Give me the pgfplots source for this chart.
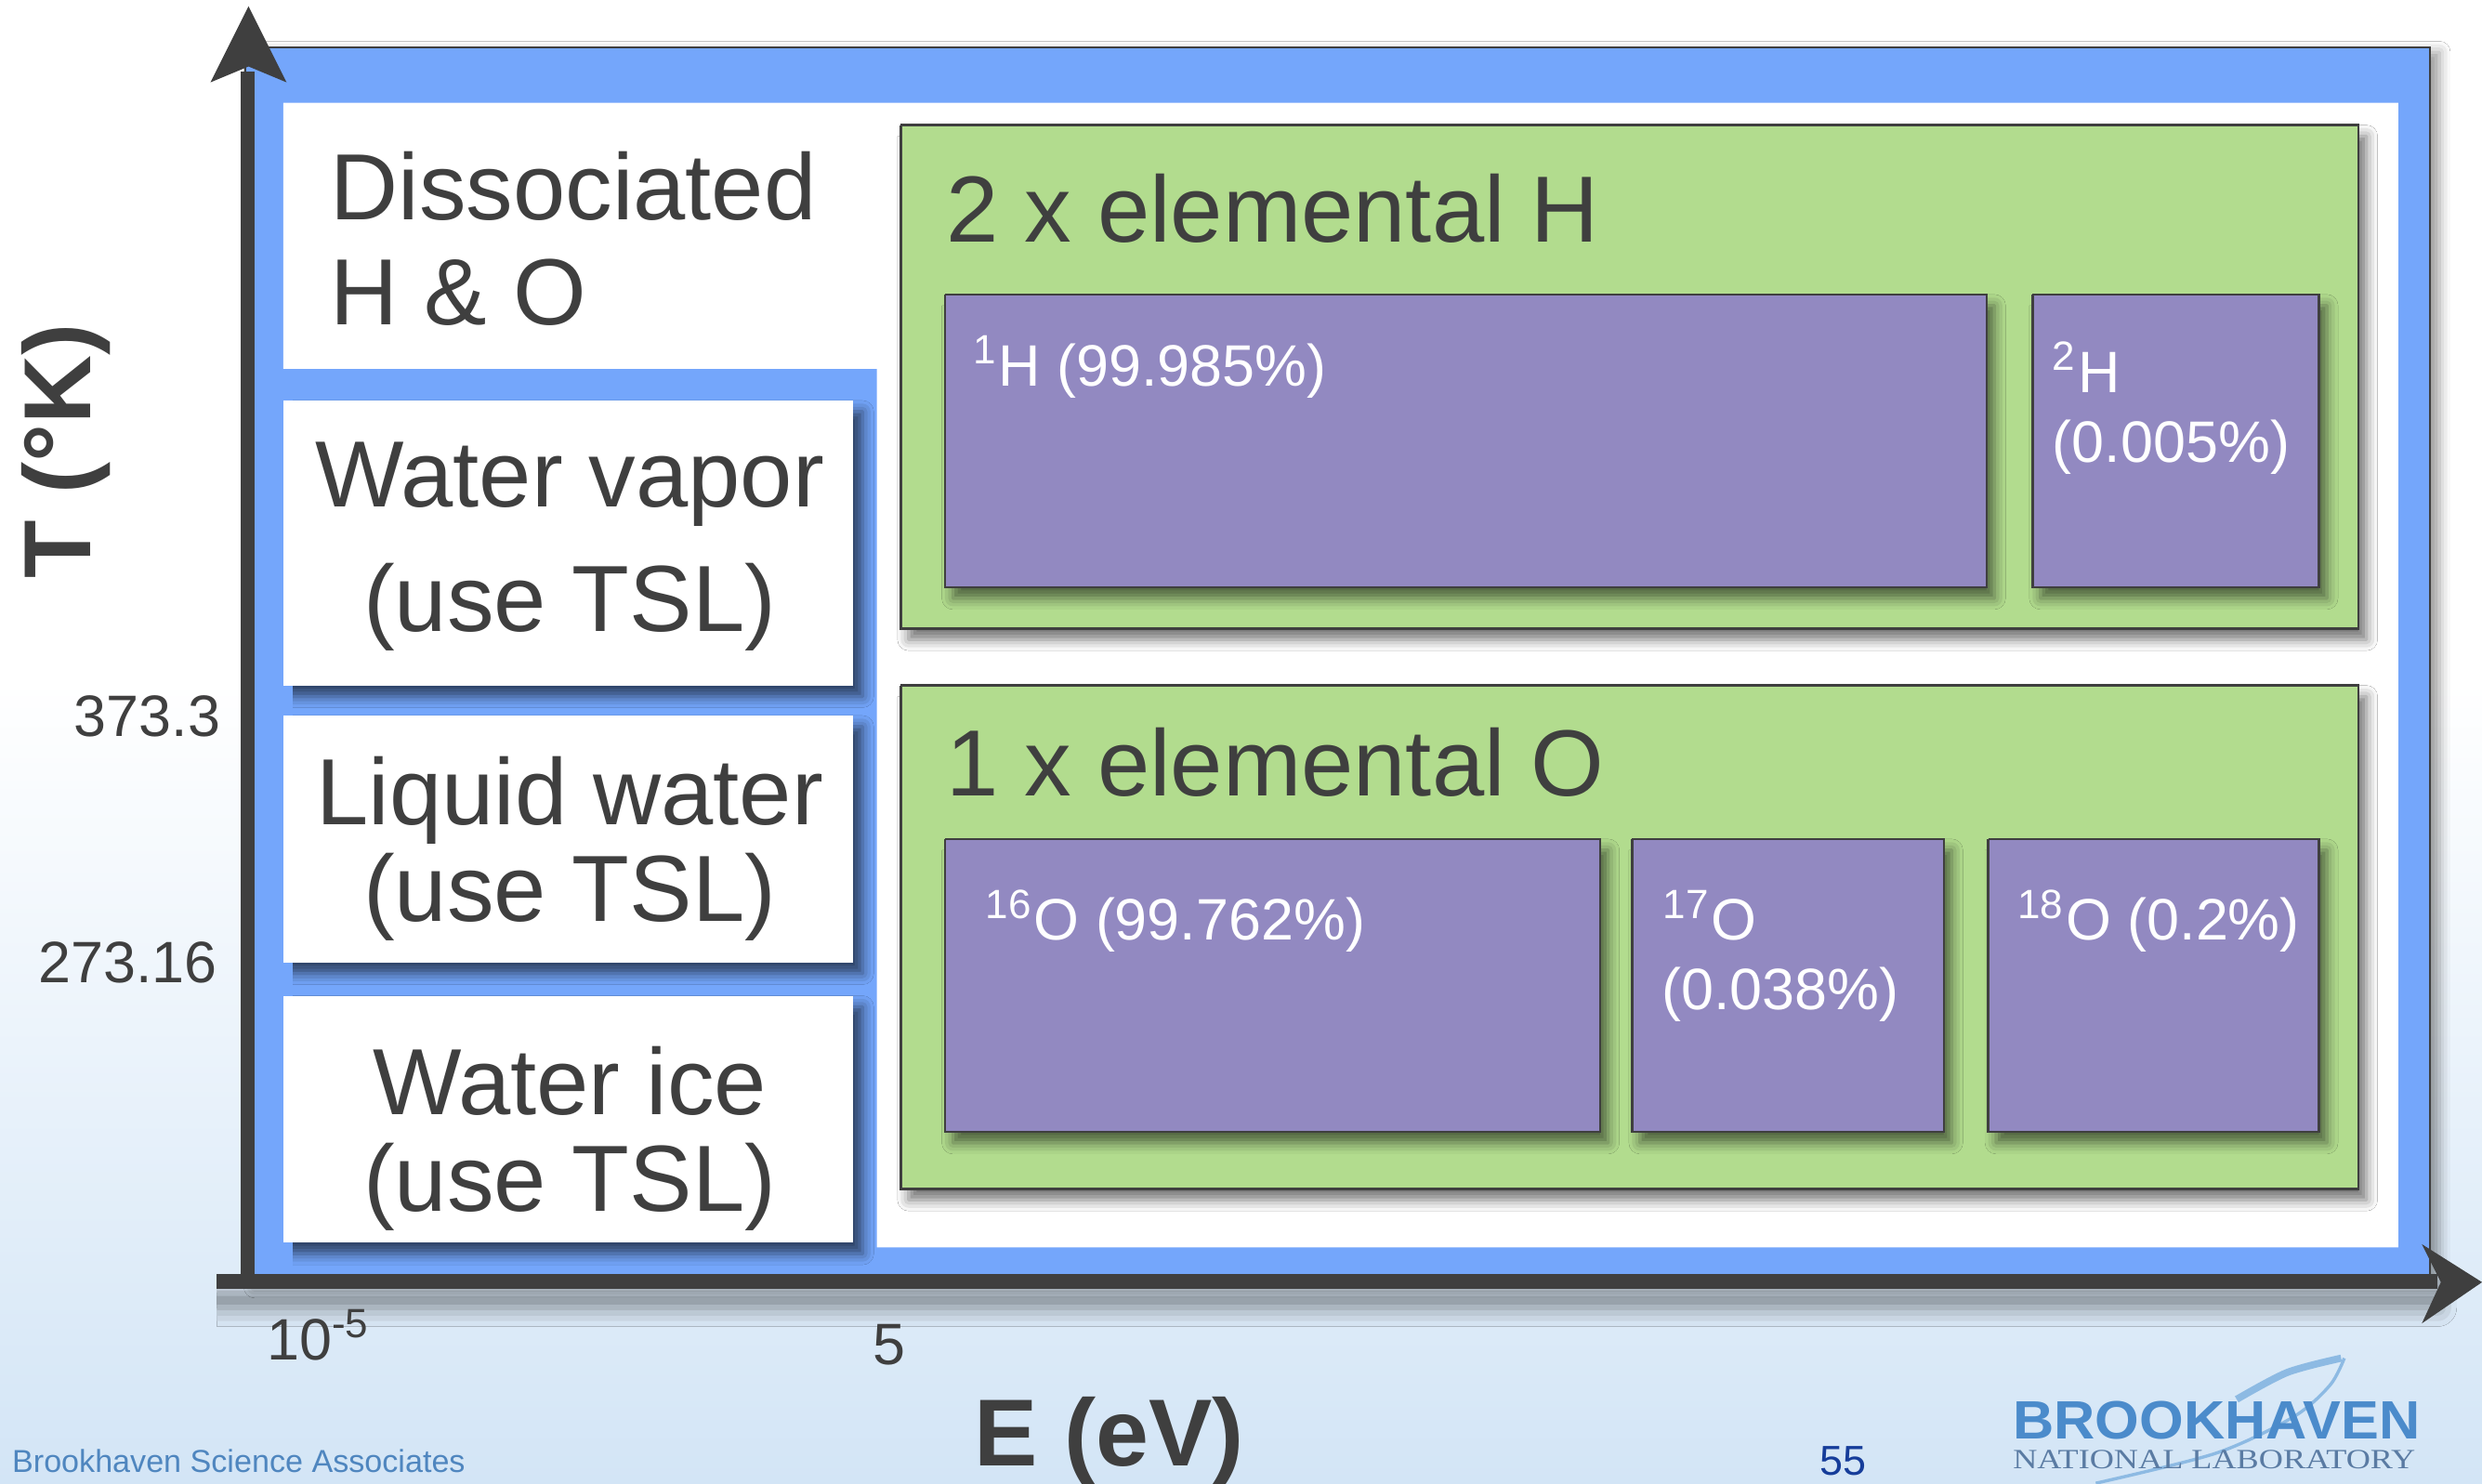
\documentclass[border=0pt]{standalone}
\usepackage{pgfplots}
\pgfplotsset{compat=1.18}
\usepackage{fontspec}
\setmainfont{Liberation Sans}
\newfontfamily\logoserif{Liberation Serif}
\usetikzlibrary{shadows.blur}

\definecolor{ink}{HTML}{3F3F3F}
\definecolor{frameblue}{HTML}{74A6FB}
\definecolor{boxgreen}{HTML}{B2DC8E}
\definecolor{boxpurple}{HTML}{9289C1}
\definecolor{bgblue}{HTML}{D3E5F6}
\definecolor{footblue}{HTML}{4F86BF}
\definecolor{pageblue}{HTML}{163D9A}
\definecolor{logoblue}{HTML}{4B8BCB}
\definecolor{logogray}{HTML}{5A7BA3}
\definecolor{swoosh}{HTML}{8DBAE3}

\newcommand{\fs}[1]{\fontsize{#1}{#1}\selectfont}

\tikzset{
  big/.style={inner sep=0pt, text=ink, font=\fs{16.9}},
  iso/.style={inner sep=0pt, text=white, font=\fs{10.5}},
  tick/.style={inner sep=0pt, text=ink, font=\fs{10.5}},
  lab/.style={inner sep=0pt, text=ink, font=\fs{17.1}\bfseries},
  box/.style={draw=ink, line width=0.15mm,
    blur shadow={shadow xshift=0.5mm, shadow yshift=-0.7mm,
                 shadow blur radius=0.7mm, shadow opacity=55}},
  pshadow/.style={blur shadow={shadow xshift=0.6mm, shadow yshift=-0.7mm,
                 shadow blur radius=0.7mm, shadow opacity=60}},
}

\begin{document}
\begin{tikzpicture}
\begin{axis}[
  width=15.68cm, height=9.37cm, scale only axis,
  xmin=0, xmax=1568, ymin=0, ymax=937, y dir=reverse,
  hide axis,
]
% background
\addplot[draw=none, fill=white] coordinates {(0,0)(1568,0)(1568,937)(0,937)};
\addplot[draw=none, top color=white, bottom color=bgblue]
  coordinates {(0,430)(1568,430)(1568,937)(0,937)};

% blue frame and white inner area
\addplot[fill=frameblue, draw=ink, line width=0.15mm,
  blur shadow={shadow xshift=0.6mm, shadow yshift=-0.3mm, shadow blur radius=0.7mm, shadow opacity=40}]
  coordinates {(155,30)(1535,30)(1535,810)(155,810)(155,30)};
\addplot[draw=none, fill=white]
  coordinates {(179,65)(1515,65)(1515,788)(554,788)(554,233)(179,233)};

% phase boxes
\addplot[fill=white, draw=none, pshadow] coordinates {(179,253)(539,253)(539,433)(179,433)};
\addplot[fill=white, draw=none, pshadow] coordinates {(179,452)(539,452)(539,608)(179,608)};
\addplot[fill=white, draw=none, pshadow] coordinates {(179,629)(539,629)(539,785)(179,785)};

% element boxes
\addplot[fill=boxgreen, box] coordinates {(569,79)(1490,79)(1490,397)(569,397)(569,79)};
\addplot[fill=boxgreen, box] coordinates {(569,433)(1490,433)(1490,751)(569,751)(569,433)};

% isotope boxes
\addplot[fill=boxpurple, box] coordinates {(597,186)(1255,186)(1255,371)(597,371)(597,186)};
\addplot[fill=boxpurple, box] coordinates {(1284,186)(1465,186)(1465,371)(1284,371)(1284,186)};
\addplot[fill=boxpurple, box] coordinates {(597,530)(1011,530)(1011,715)(597,715)(597,530)};
\addplot[fill=boxpurple, box] coordinates {(1031,530)(1228,530)(1228,715)(1031,715)(1031,530)};
\addplot[fill=boxpurple, box] coordinates {(1256,530)(1465,530)(1465,715)(1256,715)(1256,530)};

% axes arrows
\addplot[fill=ink, draw=none] coordinates {(152,45)(161,45)(161,812)(152,812)};
\addplot[fill=ink, draw=none] coordinates {(133,52)(157,4)(181,52)(157,42)};
\addplot[fill=ink, draw=none,
  blur shadow={shadow xshift=0mm, shadow yshift=-1.2mm, shadow blur radius=1.2mm, shadow opacity=45}]
  coordinates {(137,805)(1540,805)(1540,814)(137,814)};
\addplot[fill=ink, draw=none] coordinates {(1530,786)(1568,810)(1530,836)(1542,810)};

% text in boxes
\node[big, anchor=base west] at (axis cs:208,139) {Dissociated};
\node[big, anchor=base west] at (axis cs:208,205) {H \& O};
\node[big, anchor=base] at (axis cs:360,320) {Water vapor};
\node[big, anchor=base] at (axis cs:360,399) {(use TSL)};
\node[big, anchor=base] at (axis cs:360,521) {Liquid water};
\node[big, anchor=base] at (axis cs:360,582) {(use TSL)};
\node[big, anchor=base] at (axis cs:360,704) {Water ice};
\node[big, anchor=base] at (axis cs:360,765) {(use TSL)};
\node[big, anchor=base west] at (axis cs:597,153) {2 x elemental H};
\node[big, anchor=base west] at (axis cs:597,503) {1 x elemental O};

\node[iso, anchor=base west] at (axis cs:614,244) {\textsuperscript{1}H (99.985\%)};
\node[iso, anchor=base west] at (axis cs:1296,248) {\textsuperscript{2}H};
\node[iso, anchor=base west] at (axis cs:1296,292) {(0.005\%)};
\node[iso, anchor=base west] at (axis cs:622,594) {\textsuperscript{16}O (99.762\%)};
\node[iso, anchor=base west] at (axis cs:1050,594) {\textsuperscript{17}O};
\node[iso, anchor=base west] at (axis cs:1049,638) {(0.038\%)};
\node[iso, anchor=base west] at (axis cs:1274,594) {\textsuperscript{18}O (0.2\%)};

% tick labels and axis labels
\node[tick, anchor=base east] at (axis cs:140,465) {373.3};
\node[tick, anchor=base east] at (axis cs:138,621) {273.16};
\node[tick, anchor=base west] at (axis cs:168,859) {10\textsuperscript{-5}};
\node[tick, anchor=base west] at (axis cs:551,862) {5};
\node[lab, anchor=base west] at (axis cs:615,926) {E (eV)};
\node[lab, anchor=base west, rotate=90] at (axis cs:57,366) {T (°K)};

% footer
\node[inner sep=0pt, anchor=base west, text=footblue, font=\fs{5.7}] at (axis cs:7,930) {Brookhaven Science Associates};
\node[inner sep=0pt, anchor=base west, text=pageblue, font=\fs{7.5}] at (axis cs:1149,932) {55};
\addplot[swoosh, line width=0.45mm, smooth] coordinates {(1413,884)(1445,867)(1479,858)};
\addplot[swoosh, line width=0.2mm, smooth] coordinates {(1481,858)(1472,875)(1449,895)(1400,918)(1324,937)};
\node[inner sep=0pt, anchor=base west, text=logoblue, font=\fs{9.7}\bfseries] at (axis cs:1271,909) {\scalebox{1.055}[1]{BROOKHAVEN}};
\node[inner sep=0pt, anchor=base west, text=logogray, font=\logoserif\fs{5}] at (axis cs:1271,927.6) {\scalebox{1.21}[1]{NATIONAL LABORATORY}};
\end{axis}
\pgfresetboundingbox
\path[use as bounding box] (current axis.south west) rectangle (current axis.north east);
\end{tikzpicture}
\end{document}
